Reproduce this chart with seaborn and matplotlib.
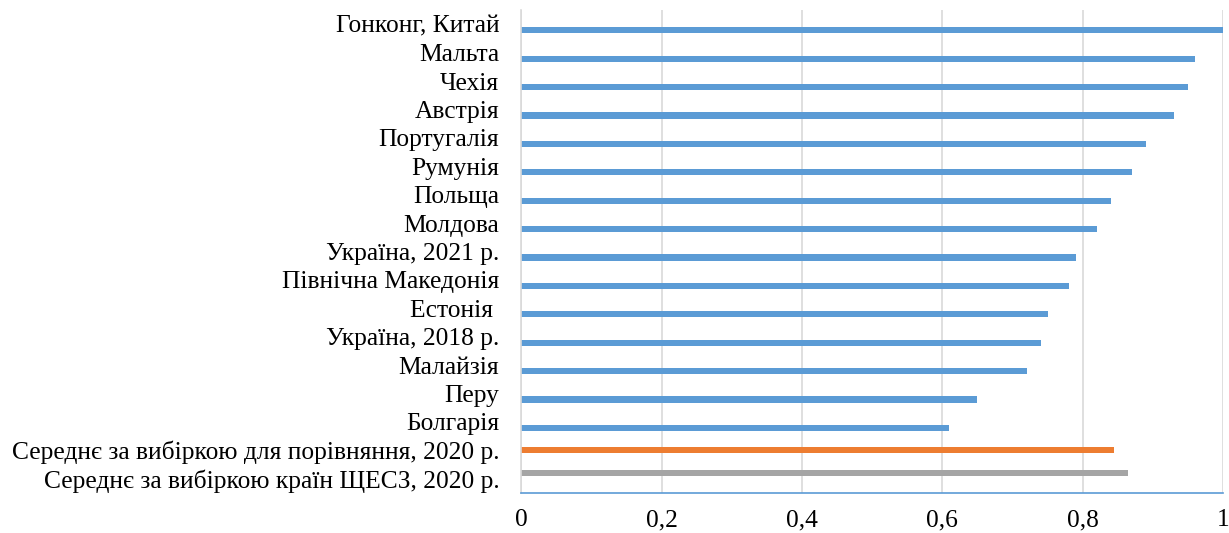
import matplotlib
matplotlib.use("Agg")
import matplotlib.pyplot as plt
import seaborn as sns
import pandas as pd

categories = [
    "Гонконг, Китай", "Мальта", "Чехія", "Австрія", "Португалія", "Румунія",
    "Польща", "Молдова", "Україна, 2021 р.", "Північна Македонія", "Естонія ",
    "Україна, 2018 р.", "Малайзія", "Перу", "Болгарія",
    "Середнє за вибіркою для порівняння, 2020 р.",
    "Середнє за вибіркою країн ЩЕСЗ, 2020 р.",
]
values = [1.0, 0.96, 0.95, 0.93, 0.89, 0.87, 0.84, 0.82, 0.79, 0.78, 0.75,
          0.74, 0.72, 0.65, 0.61, 0.845, 0.865]
series = ["countries"] * 15 + ["comparison"] + ["ЩЕСЗ"]
series_order = ["ЩЕСЗ", "comparison", "countries"]
series_colors = {"countries": "#5B9BD5", "comparison": "#ED7D31", "ЩЕСЗ": "#A5A5A5"}
xticks = [0, 0.2, 0.4, 0.6, 0.8, 1.0]
xtick_labels = ["0", "0,2", "0,4", "0,6", "0,8", "1"]

df = pd.DataFrame({"category": categories, "value": values, "series": series})

sns.set_theme(style="white")
plt.rcParams["font.family"] = ["Liberation Serif", "DejaVu Serif"]

fig = plt.figure(figsize=(12.29, 5.33), dpi=100)
ax = fig.add_axes([0.4243, 0.0754, 0.9951 - 0.4243, 0.9812 - 0.0754])

sns.barplot(data=df, x="value", y="category", hue="series", hue_order=series_order,
            palette=series_colors, order=categories, dodge=True, width=0.64,
            saturation=1, linewidth=0, legend=False, ax=ax, orient="h")

ax.set_xlim(0, 1)
ax.set_xticks(xticks)
ax.set_xticklabels(xtick_labels)
ax.xaxis.grid(True, color="#D9D9D9", linewidth=1.2)
ax.yaxis.grid(False)
ax.set_axisbelow(True)
ax.set_xlabel("")
ax.set_ylabel("")
for s in ["top", "right"]:
    ax.spines[s].set_visible(False)
ax.spines["left"].set_color("#D9D9D9")
ax.spines["left"].set_linewidth(1.2)
ax.spines["bottom"].set_color("#5B9BD5")
ax.spines["bottom"].set_linewidth(1.2)
ax.tick_params(axis="both", length=0, labelsize=18.4, colors="#000000")
ax.tick_params(axis="y", pad=16)
ax.tick_params(axis="x", pad=12)

fig.savefig("out.png", dpi=100)
